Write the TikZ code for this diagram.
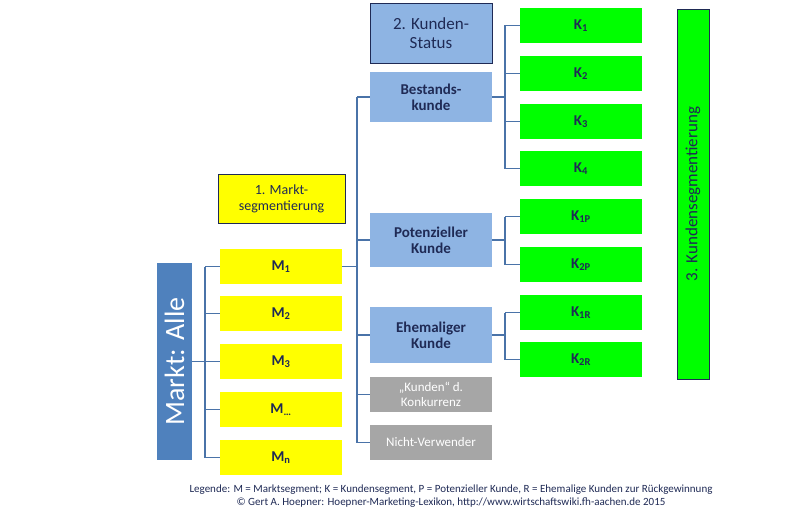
\documentclass[tikz,border=0pt]{standalone}
\usepackage{fontspec}
\setmainfont{Carlito}
\begin{document}
\begin{tikzpicture}[x=1pt,y=-1pt,
  txt/.style={text=navy,font=\bfseries\fontsize{15}{16}\selectfont,align=center},
  ybox/.style={draw=none,fill=yel,txt},
  gbox/.style={draw=none,fill=grn,txt},
  bbox/.style={draw=none,fill=lblue,txt},
  greybox/.style={draw=none,fill=gray!70,text=white,font=\fontsize{13}{15}\selectfont,align=center},
  conn/.style={draw=lineb,line width=1.6pt}]
\definecolor{navy}{HTML}{1F2A55}
\definecolor{yel}{HTML}{FFFF00}
\definecolor{grn}{HTML}{00FF00}
\definecolor{lblue}{HTML}{8EB4E3}
\definecolor{lineb}{HTML}{4A73A8}
\definecolor{darkb}{HTML}{4F81BD}
\useasboundingbox[fill=white] (0,0) rectangle (800,519);
% Markt
\node[fill=darkb,text=white,font=\fontsize{28}{30}\selectfont,minimum width=35pt,minimum height=197pt,inner sep=0] (markt) at (174.5,361.5) {};
\node[rotate=90,text=white,font=\fontsize{28}{30}\selectfont] at (markt.center) {Markt: Alle};
% M boxes
\foreach \n/\y/\t in {m1/266.5/{M\textsubscript{1}},m2/313.5/{M\textsubscript{2}},m3/361.5/{M\textsubscript{3}},m4/409.5/{M\textsubscript{\dots}},m5/457.5/{M\textsubscript{n}}}
  \node[ybox,minimum width=122pt,minimum height=35pt] (\n) at (281,\y) {\t};
\node[draw=navy,fill=yel,text=navy,font=\fontsize{14}{16}\selectfont,align=center,minimum width=127pt,minimum height=49pt,line width=0.8pt] (ms) at (281.5,198.5) {1. Markt-\\segmentierung};
\coordinate (bm) at (205,361.5);
\draw[conn] (markt.east) -- (bm);
\draw[conn] (205,266.5) -- (205,457.5);
\foreach \n in {m1,m2,m3,m4,m5} \draw[conn] (205,0|-\n.west) -- (\n.west);
% status boxes
\node[draw=navy,fill=lblue,text=navy,font=\fontsize{17}{19}\selectfont,align=center,minimum width=122pt,minimum height=60pt,line width=0.8pt] (ks) at (431,33) {2. Kunden-\\Status};
\node[bbox,minimum width=122pt,minimum height=50pt] (b1) at (431,97) {Bestands-\\kunde};
\node[bbox,minimum width=122pt,minimum height=54pt] (b2) at (431,240) {Potenzieller\\Kunde};
\node[bbox,minimum width=122pt,minimum height=56pt] (b3) at (431,335) {Ehemaliger\\Kunde};
\node[greybox,minimum width=122pt,minimum height=35pt] (b4) at (431,394.5) {„Kunden“ d.\\Konkurrenz};
\node[greybox,minimum width=122pt,minimum height=35pt] (b5) at (431,442.5) {Nicht-Verwender};
\draw[conn] (m1.east) -- (357,266.5);
\draw[conn] (357,97) -- (357,442.5);
\foreach \n in {b1,b2,b3,b4,b5} \draw[conn] (357,0|-\n.west) -- (\n.west);
% K boxes
\foreach \n/\y/\t in {k1/25.5/{K\textsubscript{1}},k2/73.5/{K\textsubscript{2}},k3/121.5/{K\textsubscript{3}},k4/168.5/{K\textsubscript{4}},k5/216.5/{K\textsubscript{1P}},k6/264.5/{K\textsubscript{2P}},k7/312.5/{K\textsubscript{1R}},k8/359.5/{K\textsubscript{2R}}}
  \node[gbox,minimum width=122pt,minimum height=35pt] (\n) at (581,\y) {\t};
\draw[conn] (b1.east) -- (505,97);
\draw[conn] (505,25.5) -- (505,168.5);
\foreach \n in {k1,k2,k3,k4} \draw[conn] (505,0|-\n.west) -- (\n.west);
\draw[conn] (b2.east) -- (505,240);
\draw[conn] (505,216.5) -- (505,264.5);
\foreach \n in {k5,k6} \draw[conn] (505,0|-\n.west) -- (\n.west);
\draw[conn] (b3.east) -- (505,335);
\draw[conn] (505,312.5) -- (505,359.5);
\foreach \n in {k7,k8} \draw[conn] (505,0|-\n.west) -- (\n.west);
% Kundensegmentierung
\node[draw=navy,fill=grn,minimum width=32pt,minimum height=370pt,line width=0.8pt,inner sep=0] (ksg) at (693,194) {};
\node[rotate=90,text=navy,font=\fontsize{17}{19}\selectfont] at (ksg.center) {3. Kundensegmentierung};
% legend
\node[text=navy,font=\fontsize{11}{13}\selectfont,align=center] (leg) at (451,496) {Legende: M = Marktsegment; K = Kundensegment, P = Potenzieller Kunde, R = Ehemalige Kunden zur Rückgewinnung\\© Gert A. Hoepner: Hoepner-Marketing-Lexikon, http://www.wirtschaftswiki.fh-aachen.de 2015};
\end{tikzpicture}
\end{document}
